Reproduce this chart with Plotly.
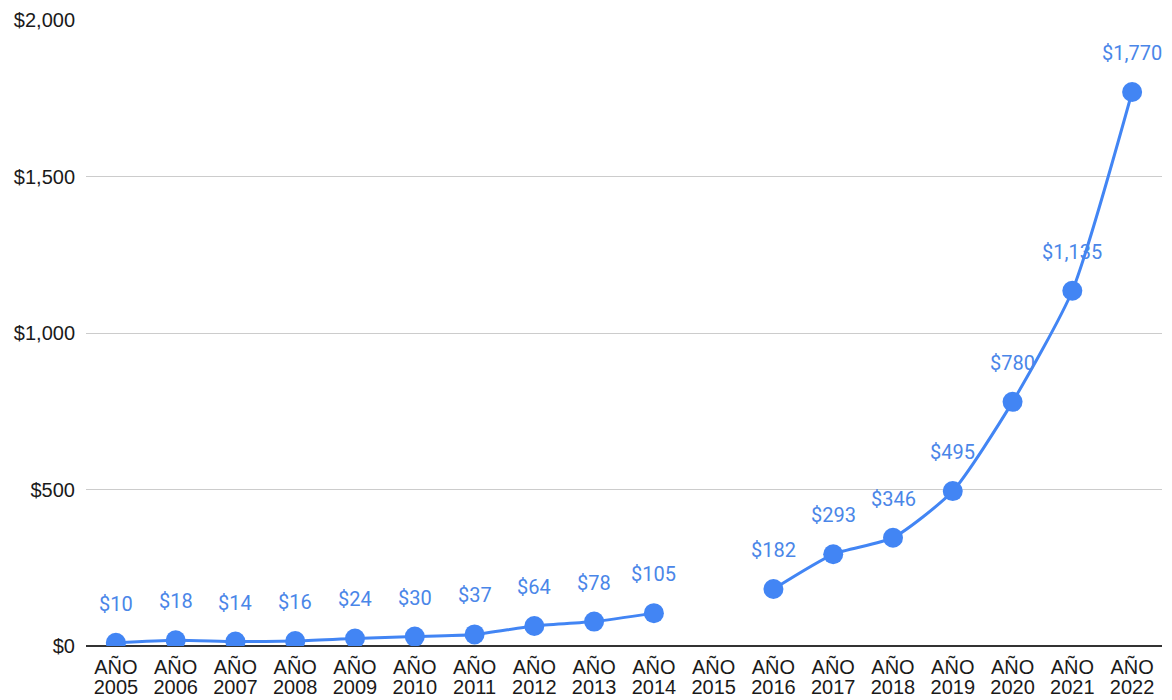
import plotly.graph_objects as go

years = ["2005", "2006", "2007", "2008", "2009", "2010", "2011", "2012", "2013",
         "2014", "2015", "2016", "2017", "2018", "2019", "2020", "2021", "2022"]
values = [10, 18, 14, 16, 24, 30, 37, 64, 78, 105, None, 182, 293, 346, 495, 780, 1135, 1770]
prefix = "AÑO"
y_ticks = [0, 500, 1000, 1500, 2000]
y_tick_labels = ["$0", "$500", "$1,000", "$1,500", "$2,000"]

blue = "#4285F4"
label_blue = "#4a86e8"
tick_font = dict(family="Liberation Sans, Arial, sans-serif", size=20, color="#1a1a1a")

fig = go.Figure()
fig.add_trace(go.Scatter(
    x=years, y=values, mode="lines+markers",
    line=dict(color=blue, width=3, shape="spline", smoothing=0.6),
    marker=dict(color=blue, size=20),
    connectgaps=False, hoverinfo="skip", showlegend=False,
))
# invisible twin trace so the second-line (year) axis is drawn
fig.add_trace(go.Scatter(
    x=years, y=values, mode="markers", marker=dict(opacity=0),
    xaxis="x2", hoverinfo="skip", showlegend=False,
))

# data labels: category index positions on the category axis
for i, v in enumerate(values):
    if v is None:
        continue
    fig.add_annotation(x=i, y=v, xref="x", yref="y", text=f"${v:,}", showarrow=False, yshift=39,
                       font=dict(family="Roboto, Liberation Sans, sans-serif", size=20, color=label_blue))

# page body has an 8px default margin, so margins are compensated
fig.update_layout(
    width=1172, height=700,
    margin=dict(l=78, r=18, t=12, b=62),
    paper_bgcolor="white", plot_bgcolor="white",
    font=dict(family="Liberation Sans, Arial, sans-serif", color="#222222"),
    xaxis=dict(
        type="category", categoryorder="array", categoryarray=years,
        range=[-0.5, len(years) - 0.5], showgrid=False,
        tickvals=years, ticktext=[prefix] * len(years),
        tickfont=tick_font, ticks="", showline=False, automargin=False,
        ticklabelstandoff=7,
    ),
    xaxis2=dict(
        type="category", categoryorder="array", categoryarray=years,
        overlaying="x", side="bottom", matches="x",
        range=[-0.5, len(years) - 0.5], showgrid=False, zeroline=False,
        tickvals=years, ticktext=years,
        tickfont=tick_font, ticks="", showline=False, automargin=False,
        ticklabelstandoff=27,
    ),
    yaxis=dict(
        range=[0, 2000], tickvals=y_ticks, ticktext=y_tick_labels,
        showgrid=True, gridcolor="#cccccc", gridwidth=1,
        zeroline=True, zerolinecolor="#333333", zerolinewidth=1.5,
        tickfont=tick_font, ticks="", ticklen=0,
        ticklabelstandoff=10, showline=False, automargin=False,
    ),
)

fig.write_html("out.html")
